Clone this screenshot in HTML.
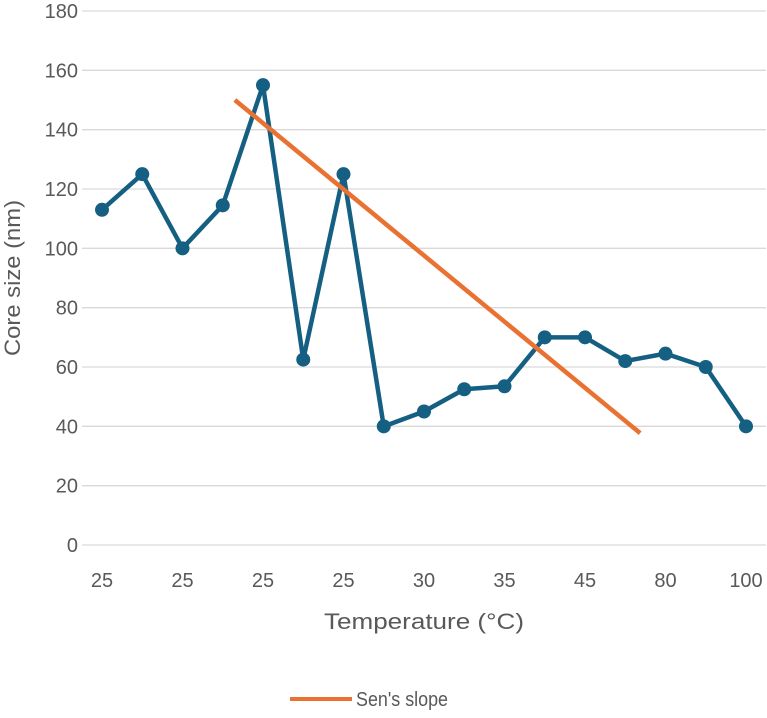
<!DOCTYPE html>
<html><head><meta charset="utf-8"><style>
body{margin:0;background:#fff;}
svg text{font-family:"Liberation Sans",Arial,sans-serif;fill:#595959;}
</style></head><body>
<svg width="767" height="713" xmlns="http://www.w3.org/2000/svg">
<g id="grid"></g>
<g id="yt"></g>
<g id="xt"></g>
<g id="series"></g>
<g id="sen"></g>
<text transform="translate(20,278) rotate(-90)" text-anchor="middle" font-size="22" textLength="156" lengthAdjust="spacingAndGlyphs">Core size (nm)</text>
<text x="424" y="629" text-anchor="middle" font-size="22" textLength="200" lengthAdjust="spacingAndGlyphs">Temperature (°C)</text>
<g>
<line x1="290" y1="699" x2="352" y2="699" stroke="#E97132" stroke-width="4"/>
<text x="356" y="706" font-size="20" textLength="92" lengthAdjust="spacingAndGlyphs">Sen's slope</text>
</g>
</svg>
<script>
const categories=["25","25","25","25","25","25","25","25","30","30","35","35","45","45","80","80","100"];
const values=[113,125,100,114.5,155,62.5,125,40,45,52.5,53.5,70,70,62,64.5,60,40];
const yTicks=[0,20,40,60,80,100,120,140,160,180];
const senIdx=[3.3,13.37];
const senVals=[150,37.7];
const NS="http://www.w3.org/2000/svg";
const x=i=>102+i*(746-102)/(categories.length-1);
const y=v=>545-v*(534/180);
function mk(t,a,p){const e=document.createElementNS(NS,t);for(const k in a)e.setAttribute(k,a[k]);p.appendChild(e);return e;}
const grid=document.getElementById('grid'),yt=document.getElementById('yt'),xt=document.getElementById('xt');
yTicks.forEach(v=>{
 const l=mk('line',{x1:82,x2:766,y1:y(v),y2:y(v),stroke:'#d9d9d9','stroke-width':1.3},grid);
 
 
 const t=mk('text',{x:78,y:y(v)+7,'text-anchor':'end','font-size':20},yt);t.textContent=v;
 
 
});
categories.forEach((c,i)=>{if(i%2)return;
 const t=mk('text',{x:x(i),y:587,'text-anchor':'middle','font-size':20},xt);t.textContent=c;
 
 
});
const s=document.getElementById('series');
const pl=mk('polyline',{points:values.map((v,i)=>x(i)+','+y(v)).join(' '),fill:'none',stroke:'#156082','stroke-width':4.5,'stroke-linejoin':'round'},s);


values.forEach((v,i)=>{const c=mk('circle',{cx:x(i),cy:y(v),r:7,fill:'#156082'},s);
 
 });
const sl=mk('line',{x1:x(senIdx[0]),y1:y(senVals[0]),x2:x(senIdx[1]),y2:y(senVals[1]),stroke:'#E97132','stroke-width':4.5},document.getElementById('sen'));


</script>
</body></html>
